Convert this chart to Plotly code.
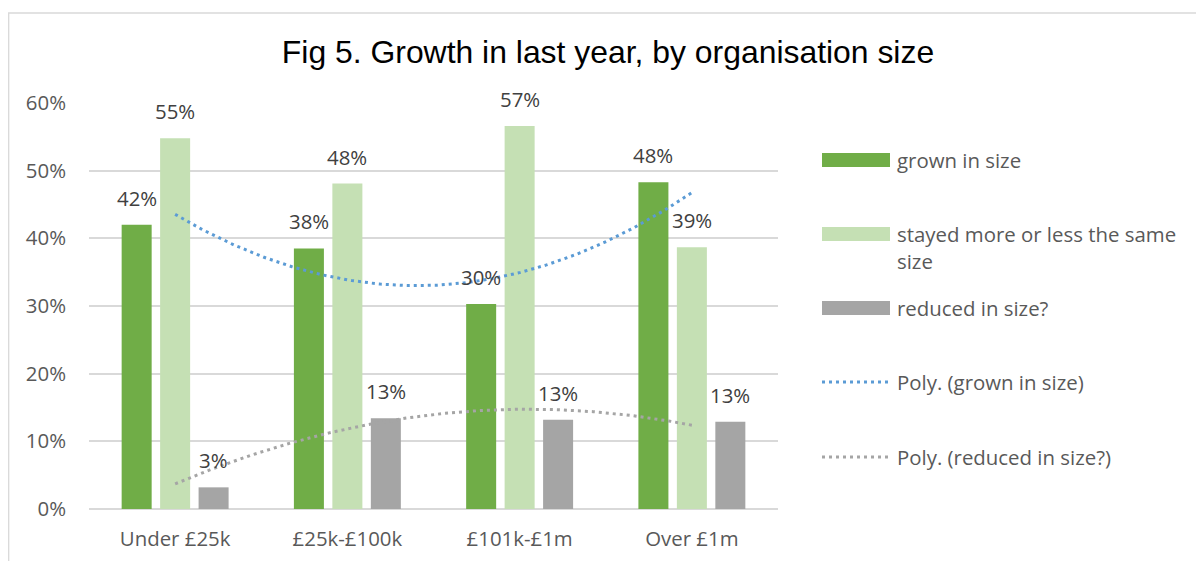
import numpy as np
import plotly.graph_objects as go

categories = ["Under £25k", "£25k-£100k", "£101k-£1m", "Over £1m"]
grown = [0.420, 0.385, 0.303, 0.483]
stayed = [0.548, 0.481, 0.566, 0.387]
reduced = [0.032, 0.134, 0.132, 0.129]
series_names = ["grown in size", "stayed more or less the same size", "reduced in size?"]
trend_names = ["Poly. (grown in size)", "Poly. (reduced in size?)"]
y_ticks = [0, 0.1, 0.2, 0.3, 0.4, 0.5, 0.6]

colors = ["#70AD47", "#C5E0B4", "#A5A5A5"]
trend_colors = ["#5B9BD5", "#A5A5A5"]
FONT = "Open Sans, sans-serif"
TXT = "#595959"
FS = 20.4

W, H = 1204, 561
OFF = 8  # page body margin: figure is drawn 8px right/down of screen origin
# plot area in screen px
L, R, T, B = 89, 778, 103, 509
BARGAP = 0.33
GROUPGAP = 0.22

xs = list(range(len(categories)))


def px(x):  # screen x -> paper
    return (x - L) / (R - L)


def py(y):  # screen y -> paper
    return (B - y) / (B - T)


fig = go.Figure()
all_series = [grown, stayed, reduced]
for name, vals, col in zip(series_names, all_series, colors):
    fig.add_trace(go.Bar(x=xs, y=vals, name=name, marker=dict(color=col, line=dict(width=0)),
                         showlegend=False, hoverinfo="skip"))

# polynomial (order 2) trendlines, as Excel
xf = np.linspace(0, len(categories) - 1, 200)
for vals, col, name in zip([grown, reduced], trend_colors, trend_names):
    coef = np.polyfit(xs, vals, 2)
    fig.add_trace(go.Scatter(x=xf, y=np.polyval(coef, xf), mode="lines", name=name,
                             line=dict(color=col, width=3, dash="3px,4px"),
                             showlegend=False, hoverinfo="skip"))

# data labels
slot = (1 - BARGAP) / 3
for j, vals in enumerate(all_series):
    for i, v in enumerate(vals):
        fig.add_annotation(x=i + (j - 1) * slot, y=v, xref="x", yref="y",
                           text=f"{round(v * 100):.0f}%", showarrow=False,
                           yanchor="bottom", yshift=11,
                           font=dict(family=FONT, size=FS, color="#404040"))

# custom legend
shapes = []
leg_rows = [(160, 160), (234, 248), (308, 308)]
for (cy, ty), col, name in zip(leg_rows, colors, series_names):
    shapes.append(dict(type="rect", xref="paper", yref="paper",
                       x0=px(822), x1=px(890), y0=py(cy + 7), y1=py(cy - 7),
                       fillcolor=col, line=dict(width=0)))
    label = "stayed more or less the same<br>size" if name.startswith("stayed") else name
    fig.add_annotation(xref="paper", yref="paper", x=px(895), y=py(ty), xanchor="left",
                       yanchor="middle", align="left", text=label, showarrow=False,
                       font=dict(family=FONT, size=FS, color=TXT))
for cy, col, name in zip([382, 457], trend_colors, trend_names):
    shapes.append(dict(type="line", xref="paper", yref="paper",
                       x0=px(822), x1=px(890), y0=py(cy), y1=py(cy),
                       line=dict(color=col, width=3, dash="3px,4px")))
    fig.add_annotation(xref="paper", yref="paper", x=px(895), y=py(cy), xanchor="left",
                       yanchor="middle", align="left", text=name, showarrow=False,
                       font=dict(family=FONT, size=FS, color=TXT))

# outer chart border (cropped on right/bottom)
shapes.append(dict(type="rect", xref="paper", yref="paper",
                   x0=px(OFF + 0.7), x1=px(W + 40), y0=py(H + 40), y1=py(13),
                   line=dict(color="#D9D9D9", width=1.3), fillcolor="rgba(0,0,0,0)",
                   layer="below"))

fig.update_layout(
    width=W, height=H,
    margin=dict(l=L - OFF, r=W - (R - OFF), t=T - OFF, b=H - (B - OFF), pad=0),
    paper_bgcolor="white", plot_bgcolor="white",
    barmode="group", bargap=BARGAP, bargroupgap=GROUPGAP,
    shapes=shapes,
    title=dict(text="Fig 5. Growth in last year, by organisation size",
               x=(608 - OFF) / W, xref="container", xanchor="center",
               y=1 - (52 - OFF) / H, yref="container", yanchor="middle",
               font=dict(family="Liberation Sans, Arial, sans-serif", size=31.9, color="#000000")),
    xaxis=dict(tickmode="array", tickvals=xs, ticktext=categories,
               range=[-0.5, len(categories) - 0.5], showgrid=False, zeroline=False,
               showline=False, ticks="", ticklabelstandoff=16,
               tickfont=dict(family=FONT, size=FS, color=TXT)),
    yaxis=dict(range=[0, 0.6], tickvals=y_ticks, tickformat=".0%",
               showgrid=True, gridcolor="#D9D9D9", gridwidth=1.5,
               zeroline=True, zerolinecolor="#D9D9D9", zerolinewidth=1.5,
               showline=False, ticks="", ticklabelstandoff=22,
               tickfont=dict(family=FONT, size=FS, color=TXT)),
    font=dict(family=FONT, color=TXT),
)

fig.write_html("out.html")
